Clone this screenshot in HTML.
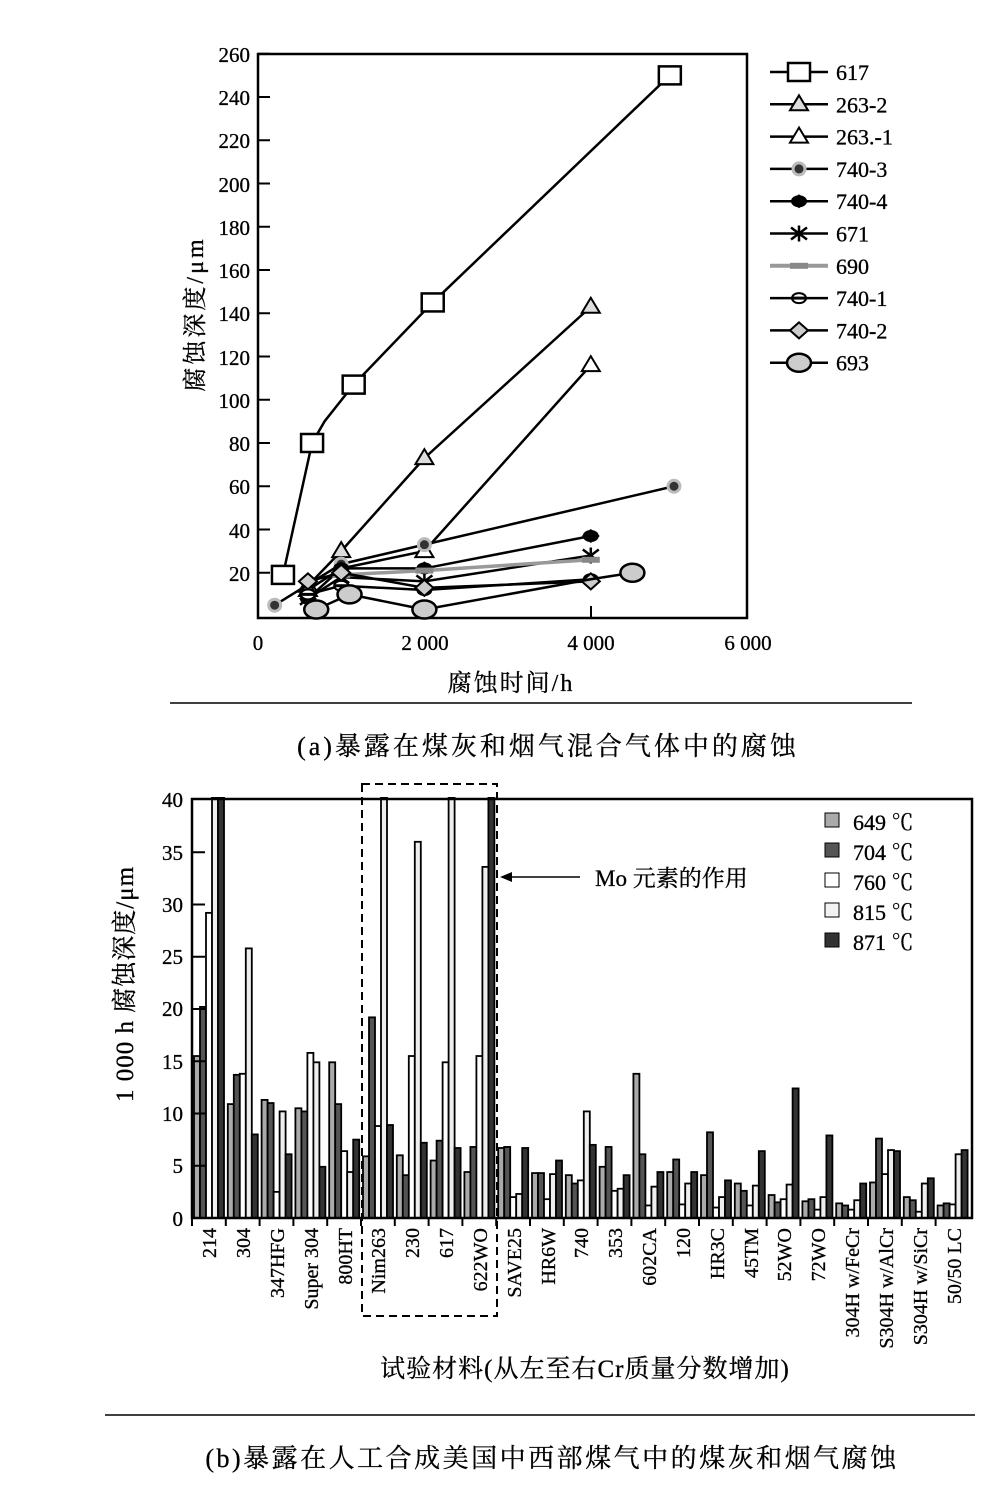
<!DOCTYPE html>
<html><head><meta charset="utf-8"><style>
body{margin:0;background:#fff}
svg text{font-family:"Liberation Serif","Noto Serif CJK SC",serif;fill:#000;stroke:#000;stroke-width:0.3}
</style></head><body>
<svg id="s" width="985" height="1483" viewBox="0 0 985 1483" xmlns="http://www.w3.org/2000/svg">
<!-- chart a -->
<rect x="258" y="54" width="489" height="564" fill="none" stroke="#000" stroke-width="2.5"/>
<g font-size="21" text-anchor="end">
<text x="250" y="62">260</text><text x="250" y="105">240</text><text x="250" y="148">220</text>
<text x="250" y="192">200</text><text x="250" y="235">180</text><text x="250" y="278">160</text>
<text x="250" y="321">140</text><text x="250" y="365">120</text><text x="250" y="408">100</text>
<text x="250" y="451">80</text><text x="250" y="494">60</text><text x="250" y="538">40</text>
<text x="250" y="581">20</text>
</g>
<g stroke="#000" stroke-width="2" id="ta"></g>
<g font-size="21" text-anchor="middle">
<text x="258" y="650">0</text><text x="425" y="650">2 000</text><text x="591" y="650">4 000</text><text x="748" y="650">6 000</text>
</g>
<text x="511" y="691" font-size="24" letter-spacing="2" text-anchor="middle">腐蚀时间/h</text>
<text transform="translate(203,314) rotate(-90)" font-size="24" letter-spacing="3" text-anchor="middle">腐蚀深度/μm</text>
<g id="lines"></g>
<g id="legend" font-size="22"></g>
<line x1="170" y1="703" x2="912" y2="703" stroke="#000" stroke-width="1.5"/>
<text x="548" y="755" font-size="26" letter-spacing="3" text-anchor="middle">(a)暴露在煤灰和烟气混合气体中的腐蚀</text>

<!-- chart b -->
<g id="bars"></g>
<rect x="192" y="799" width="780" height="419" fill="none" stroke="#000" stroke-width="2.5"/>
<g font-size="21" text-anchor="end">
<text x="183" y="807">40</text><text x="183" y="860">35</text><text x="183" y="912">30</text>
<text x="183" y="964">25</text><text x="183" y="1016">20</text><text x="183" y="1069">15</text>
<text x="183" y="1121">10</text><text x="183" y="1173">5</text><text x="183" y="1226">0</text>
</g>
<g id="tb" stroke="#000" stroke-width="2"></g>
<text transform="translate(133,984) rotate(-90)" font-size="25" letter-spacing="1" text-anchor="middle">1 000 h 腐蚀深度/μm</text>
<rect x="362" y="784" width="135" height="532" fill="none" stroke="#000" stroke-width="2" stroke-dasharray="8,5"/>
<line x1="580" y1="877" x2="505" y2="877" stroke="#000" stroke-width="1.5"/>
<polygon points="500,877 512,872 512,882" fill="#000"/>
<text x="595" y="886" font-size="23">Mo 元素的作用</text>
<g font-size="22">
<rect x="825" y="813" width="14" height="14" fill="#aaa" stroke="#000"/><text x="853" y="830">649 ℃</text>
<rect x="825" y="843" width="14" height="14" fill="#555" stroke="#000"/><text x="853" y="860">704 ℃</text>
<rect x="825" y="873" width="14" height="14" fill="#fff" stroke="#000"/><text x="853" y="890">760 ℃</text>
<rect x="825" y="903" width="14" height="14" fill="#f2f2f2" stroke="#000"/><text x="853" y="920">815 ℃</text>
<rect x="825" y="933" width="14" height="14" fill="#333" stroke="#000"/><text x="853" y="950">871 ℃</text>
</g>
<g font-size="20" text-anchor="end">
<text transform="translate(216,1228) rotate(-90)">214</text>
<text transform="translate(250,1228) rotate(-90)">304</text>
<text transform="translate(284,1228) rotate(-90)">347HFG</text>
<text transform="translate(318,1228) rotate(-90)">Super 304</text>
<text transform="translate(352,1228) rotate(-90)">800HT</text>
<text transform="translate(385,1228) rotate(-90)">Nim263</text>
<text transform="translate(419,1228) rotate(-90)">230</text>
<text transform="translate(453,1228) rotate(-90)">617</text>
<text transform="translate(487,1228) rotate(-90)">622WO</text>
<text transform="translate(521,1228) rotate(-90)">SAVE25</text>
<text transform="translate(555,1228) rotate(-90)">HR6W</text>
<text transform="translate(588,1228) rotate(-90)">740</text>
<text transform="translate(622,1228) rotate(-90)">353</text>
<text transform="translate(656,1228) rotate(-90)">602CA</text>
<text transform="translate(690,1228) rotate(-90)">120</text>
<text transform="translate(724,1228) rotate(-90)">HR3C</text>
<text transform="translate(758,1228) rotate(-90)">45TM</text>
<text transform="translate(791,1228) rotate(-90)">52WO</text>
<text transform="translate(825,1228) rotate(-90)">72WO</text>
<text transform="translate(859,1228) rotate(-90)">304H w/FeCr</text>
<text transform="translate(893,1228) rotate(-90)">S304H w/AlCr</text>
<text transform="translate(927,1228) rotate(-90)">S304H w/SiCr</text>
<text transform="translate(961,1228) rotate(-90)">50/50 LC</text>
</g>
<text x="585" y="1377" font-size="25" letter-spacing="1" text-anchor="middle">试验材料(从左至右Cr质量分数增加)</text>
<line x1="105" y1="1415" x2="975" y2="1415" stroke="#000" stroke-width="1.5"/>
<text x="552" y="1467" font-size="26" letter-spacing="2.5" text-anchor="middle">(b)暴露在人工合成美国中西部煤气中的煤灰和烟气腐蚀</text>
</svg>
<script>
const NS="http://www.w3.org/2000/svg";
function el(p,t,a){const e=document.createElementNS(NS,t);for(const k in a)e.setAttribute(k,a[k]);p.appendChild(e);return e;}
const ta=document.getElementById('ta');
for(let v=20;v<=260;v+=20){const y=616-v*2.1625;el(ta,'line',{x1:258,x2:270,y1:y,y2:y});}
[425,591].forEach(x=>el(ta,'line',{x1:x,x2:x,y1:618,y2:606}));
const X=h=>258+h*0.0832,Y=v=>616-v*2.1625;
const L=document.getElementById('lines');
function mk(g,type,x,y){
 switch(type){
 case 'sq':el(g,'rect',{x:x-11,y:y-9,width:22,height:18,fill:'#fff',stroke:'#000','stroke-width':2.5});break;
 case 'tri':el(g,'polygon',{points:`${x},${y-9} ${x-9},${y+6} ${x+9},${y+6}`,fill:'#ddd',stroke:'#000','stroke-width':2});break;
 case 'tri2':el(g,'polygon',{points:`${x},${y-9} ${x-9},${y+6} ${x+9},${y+6}`,fill:'#fff',stroke:'#000','stroke-width':2});break;
 case 'star':el(g,'circle',{cx:x,cy:y,r:6,fill:'#333',stroke:'#bbb','stroke-width':3});break;
 case 'dia':el(g,'polygon',{points:`${x},${y-7} ${x+9},${y} ${x},${y+7} ${x-9},${y}`,fill:'#000'});el(g,'ellipse',{cx:x,cy:y,rx:8,ry:6,fill:'#000'});break;
 case 'x':el(g,'path',{d:`M${x-8} ${y-6}L${x+8} ${y+6}M${x-8} ${y+6}L${x+8} ${y-6}M${x} ${y-8}V${y+8}`,stroke:'#000','stroke-width':2.5});break;
 case 'bar':el(g,'rect',{x:x-9,y:y-3,width:18,height:6,fill:'#888'});break;
 case 'ho':el(g,'ellipse',{cx:x,cy:y,rx:7,ry:5,fill:'#fff',stroke:'#000','stroke-width':2});el(g,'line',{x1:x-7,x2:x+7,y1:y,y2:y,stroke:'#000','stroke-width':3});break;
 case 'di2':el(g,'polygon',{points:`${x},${y-8} ${x+9},${y} ${x},${y+8} ${x-9},${y}`,fill:'#ccc',stroke:'#000','stroke-width':2});break;
 case 'ell':el(g,'ellipse',{cx:x,cy:y,rx:12,ry:9,fill:'#ccc',stroke:'#000','stroke-width':2.5});break;
 }
}
const S=[
 ['sq','#000',[[300,19],[650,80],[800,90],[1150,107],[2100,145],[4950,250]],[0,1,3,4,5]],
 ['tri','#000',[[600,14],[1000,30],[2000,73],[4000,143]],null],
 ['tri2','#000',[[600,12],[1000,22],[2000,30],[4000,116]],null],
 ['star','#000',[[200,5],[1000,24],[2000,33],[5000,60]],null],
 ['dia','#000',[[600,8],[1000,22],[2000,22],[4000,37]],null],
 ['x','#000',[[600,8],[1000,18],[2000,16],[4000,28]],null],
 ['bar','#999',[[1000,19],[2000,21],[4000,26]],null],
 ['ho','#000',[[600,10],[1000,14],[2000,12],[4000,17]],null],
 ['di2','#000',[[600,16],[1000,20],[2000,13],[4000,16]],null],
 ['ell','#000',[[700,3],[1100,10],[2000,3],[4000,17],[4500,20]],[0,1,2,4]],
];
S.forEach(s=>{
 const g=el(L,'g',{});
 el(g,'polyline',{points:s[2].map(p=>X(p[0])+','+Y(p[1])).join(' '),fill:'none',stroke:s[1],'stroke-width':s[0]=='bar'?3.5:2.5});
 s[2].forEach((p,i)=>{if(!s[3]||s[3].includes(i))mk(g,s[0],X(p[0]),Y(p[1]));});
});
const lg=document.getElementById('legend');
const names=['617','263-2','263.-1','740-3','740-4','671','690','740-1','740-2','693'];
names.forEach((n,i)=>{const y=72+i*32.3;
 el(lg,'line',{x1:770,x2:828,y1:y,y2:y,stroke:S[i][1]=='#999'?'#999':'#000','stroke-width':S[i][0]=='bar'?4:2.5});
 mk(lg,S[i][0],799,y);
 const t=el(lg,'text',{x:836,y:y+8});t.textContent=n;});
const D=[[15.5,20.2,29.2,41,41],[10.9,13.7,13.8,25.8,8.0],[11.3,11.0,2.5,10.2,6.1],[10.5,10.2,15.8,14.9,4.9],[14.9,10.9,6.4,4.4,7.5],
[5.9,19.2,8.8,41,8.9],[6,4.1,15.5,36,7.2],[5.5,7.4,14.9,41,6.7],[4.4,6.8,15.5,33.6,41],[6.7,6.8,2.0,2.3,6.7],
[4.3,4.3,1.8,4.2,5.5],[4.1,3.3,3.6,10.2,7.0],[4.9,6.8,2.6,2.8,4.1],[13.8,6.1,1.2,3.0,4.4],[4.4,5.6,1.3,3.3,4.4],
[4.1,8.2,1.0,2.0,3.6],[3.3,2.6,1.2,3.1,6.4],[2.2,1.5,1.8,3.2,12.4],[1.6,1.8,0.8,2.0,7.9],[1.4,1.2,0.8,1.7,3.3],
[3.4,7.6,4.2,6.5,6.4],[2.0,1.7,0.6,3.3,3.8],[1.2,1.4,1.3,6.1,6.5]];
const C=['#aaa','#555','#fff','#eee','#333'];
const B=document.getElementById('bars'),tb=document.getElementById('tb');
D.forEach((g,i)=>{const gx=192+33.8*i;
 g.forEach((v,j)=>{const h=Math.min(v,40.2)*10.45;
  el(B,'rect',{x:gx+2+j*6,y:1218-h,width:6,height:h,fill:C[j],stroke:'#000','stroke-width':1.8});});
 el(tb,'line',{x1:gx,x2:gx,y1:1218,y2:1226});
});
for(let v=5;v<=35;v+=5){const y=1218-v*10.45;el(tb,'line',{x1:192,x2:205,y1:y,y2:y});}
</script>
</body></html>
